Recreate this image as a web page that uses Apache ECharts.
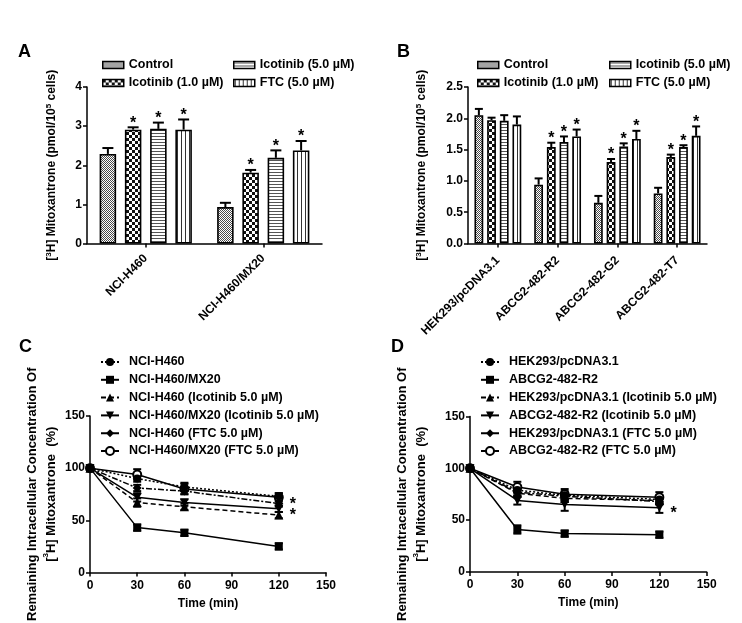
<!DOCTYPE html>
<html><head><meta charset="utf-8">
<script src="https://cdn.jsdelivr.net/npm/echarts@6/dist/echarts.min.js"></script>
<style>html,body{margin:0;padding:0;background:#fff}#c{width:742px;height:623px}</style>
</head><body><div id="c"></div>
<script>
// ---------- data ----------
const treatNames = ['Control', 'Icotinib (1.0 µM)', 'Icotinib (5.0 µM)', 'FTC (5.0 µM)'];

const catsA = ['NCI-H460', 'NCI-H460/MX20'];
const aControl = [2.29, 0.93];
const aIco1 = [2.91, 1.81];
const aIco5 = [2.93, 2.19];
const aFTC = [2.91, 2.38];
const aControlErr = [0.15, 0.11];
const aIco1Err = [0.06, 0.07];
const aIco5Err = [0.16, 0.19];
const aFTCErr = [0.26, 0.24];
const aSig = [[0, 0], [1, 1], [1, 1], [1, 1]];

const catsB = ['HEK293/pcDNA3.1', 'ABCG2-482-R2', 'ABCG2-482-G2', 'ABCG2-482-T7'];
const bControl = [2.05, 0.94, 0.65, 0.80];
const bIco1 = [1.97, 1.54, 1.30, 1.38];
const bIco5 = [1.96, 1.62, 1.55, 1.54];
const bFTC = [1.90, 1.71, 1.67, 1.72];
const bControlErr = [0.10, 0.10, 0.11, 0.09];
const bIco1Err = [0.04, 0.07, 0.05, 0.04];
const bIco5Err = [0.09, 0.09, 0.05, 0.03];
const bFTCErr = [0.13, 0.11, 0.13, 0.15];
const bSig = [[0, 0, 0, 0], [0, 1, 1, 1], [0, 1, 1, 1], [0, 1, 1, 1]];

const timePoints = [0, 30, 60, 120];

const cNames = ['NCI-H460', 'NCI-H460/MX20', 'NCI-H460 (Icotinib 5.0 µM)', 'NCI-H460/MX20 (Icotinib 5.0 µM)', 'NCI-H460 (FTC 5.0 µM)', 'NCI-H460/MX20 (FTC 5.0 µM)'];
const cH460 = [100, 90, 82, 73];
const cMX20 = [100, 43, 38, 25];
const cH460Ico = [100, 67, 63, 55];
const cMX20Ico = [100, 72, 67, 61];
const cH460FTC = [100, 81, 78, 66];
const cMX20FTC = [100, 94, 80, 72];
const cH460Err = [0, 3, 4, 3];
const cMX20Err = [0, 3, 3, 3];
const cH460IcoErr = [0, 4, 3, 3];
const cMX20IcoErr = [0, 4, 3, 3];
const cH460FTCErr = [0, 3, 3, 3];
const cMX20FTCErr = [0, 5, 5, 4];
const cStars = [[129, 70.5], [129, 60]];

const dNames = ['HEK293/pcDNA3.1', 'ABCG2-482-R2', 'HEK293/pcDNA3.1 (Icotinib 5.0 µM)', 'ABCG2-482-R2 (Icotinib 5.0 µM)', 'HEK293/pcDNA3.1 (FTC 5.0 µM)', 'ABCG2-482-R2 (FTC 5.0 µM)'];
const dHEK = [100, 79, 74, 70];
const dR2 = [100, 41, 37, 36];
const dHEKIco = [100, 76, 71, 69];
const dR2Ico = [100, 69, 65, 62];
const dHEKFTC = [100, 77, 73, 68];
const dR2FTC = [100, 82, 75, 72];
const dHEKErr = [0, 3, 4, 4];
const dR2Err = [0, 4, 3, 3];
const dHEKIcoErr = [0, 3, 3, 3];
const dR2IcoErr = [0, 4, 6, 5];
const dHEKFTCErr = [0, 3, 3, 3];
const dR2FTCErr = [0, 5, 5, 5];
const dStars = [[129, 62]];

// ---------- styles ----------
const FF = '"Liberation Sans", Arial, Helvetica, sans-serif';
function makePattern(w, h, draw) {
  const c = document.createElement('canvas');
  c.width = w; c.height = h;
  const g = c.getContext('2d');
  g.fillStyle = '#fff'; g.fillRect(0, 0, w, h);
  draw(g);
  return { image: c, repeat: 'repeat' };
}
const patterns = [
  makePattern(2, 2, g => { g.fillStyle = '#4a4a4a'; g.fillRect(0, 0, 1, 1); g.fillRect(1, 1, 1, 1); }),
  makePattern(6, 6, g => { g.fillStyle = '#111'; g.fillRect(0, 0, 3, 3); g.fillRect(3, 3, 3, 3); }),
  makePattern(4, 3, g => { g.fillStyle = '#555'; g.fillRect(0, 1, 4, 1); }),
  makePattern(4, 4, g => { g.fillStyle = '#333'; g.fillRect(1, 0, 1, 4); })
];
const lineTypes = [[2, 2], 'solid', [5, 3], 'solid', [6, 2, 2, 2], 'solid'];
const symbols = ['circle', 'rect', 'triangle', 'path://M0,0 L10,0 L5,9 Z', 'diamond', 'emptyCircle'];
const symbolSizes = [8, 8, 9, [9, 8], 9, 8];

const axisLine = { show: true, lineStyle: { color: '#000', width: 1.5 } };
const axisTick = { show: true, length: 4, lineStyle: { color: '#000', width: 1.5 } };
const lab = { color: '#000', fontSize: 12, fontWeight: 'bold', fontFamily: FF };

const aMeans = [aControl, aIco1, aIco5, aFTC];
const aErrs = [aControlErr, aIco1Err, aIco5Err, aFTCErr];
const bMeans = [bControl, bIco1, bIco5, bFTC];
const bErrs = [bControlErr, bIco1Err, bIco5Err, bFTCErr];
const cMeans = [cH460, cMX20, cH460Ico, cMX20Ico, cH460FTC, cMX20FTC];
const cErrs = [cH460Err, cMX20Err, cH460IcoErr, cMX20IcoErr, cH460FTCErr, cMX20FTCErr];
const dMeans = [dHEK, dR2, dHEKIco, dR2Ico, dHEKFTC, dR2FTC];
const dErrs = [dHEKErr, dR2Err, dHEKIcoErr, dR2IcoErr, dHEKFTCErr, dR2FTCErr];

const A_BW = 16.5, A_GAP = 0.53, B_BW = 8.8, B_GAP = 0.44;

const series = [];
function addBars(gi, means, errs, sigs, bw, gap, cap) {
  const pitch = bw * (1 + gap);
  means.forEach((m, si) => {
    series.push({
      type: 'bar', name: treatNames[si], xAxisIndex: gi, yAxisIndex: gi,
      data: m, barWidth: bw, barGap: (gap * 100) + '%',
      itemStyle: { color: patterns[si], borderColor: '#000', borderWidth: 1.6 },
      z: 2
    });
  });
  means.forEach((m, si) => {
    series.push({
      type: 'custom', xAxisIndex: gi, yAxisIndex: gi, z: 3, silent: true,
      data: m.map((v, i) => [i, v, v + errs[si][i], sigs[si][i]]),
      renderItem: (params, api) => {
        const c = api.coord([api.value(0), api.value(1)]);
        const t = api.coord([api.value(0), api.value(2)]);
        const x = c[0] + (si - (means.length - 1) / 2) * pitch;
        const ch = [
          { type: 'line', shape: { x1: x, y1: c[1], x2: x, y2: t[1] }, style: { stroke: '#000', lineWidth: 2 } },
          { type: 'line', shape: { x1: x - cap / 2, y1: t[1], x2: x + cap / 2, y2: t[1] }, style: { stroke: '#000', lineWidth: 2 } }
        ];
        if (api.value(3)) {
          ch.push({ type: 'text', style: { text: '*', x: x, y: t[1] + 4, align: 'center', verticalAlign: 'bottom', font: 'bold 16px ' + FF, fill: '#000' } });
        }
        return { type: 'group', children: ch };
      }
    });
  });
}
addBars(0, aMeans, aErrs, aSig, A_BW, A_GAP, 11);
addBars(1, bMeans, bErrs, bSig, B_BW, B_GAP, 8);

function addLines(gi, names, means, errs, stars) {
  means.forEach((m, si) => {
    series.push({
      type: 'line', name: names[si], xAxisIndex: gi, yAxisIndex: gi,
      data: m.map((v, i) => [timePoints[i], v]),
      symbol: symbols[si], symbolSize: symbolSizes[si], showAllSymbol: true,
      lineStyle: { color: '#000', width: 1.5, type: lineTypes[si] },
      itemStyle: { color: '#000', borderColor: '#000', borderWidth: si === 5 ? 1.5 : 0 },
      z: si === 5 ? 2 : 3
    });
    series.push({
      type: 'custom', xAxisIndex: gi, yAxisIndex: gi, z: 1, silent: true,
      data: m.map((v, i) => [timePoints[i], v, errs[si][i]]),
      renderItem: (params, api) => {
        const x = api.value(0), v = api.value(1), e = api.value(2);
        if (!e) return null;
        const t = api.coord([x, v + e]), b = api.coord([x, v - e]);
        const w = 4;
        const st = { stroke: '#000', lineWidth: 2 };
        return { type: 'group', children: [
          { type: 'line', shape: { x1: t[0], y1: t[1], x2: b[0], y2: b[1] }, style: st },
          { type: 'line', shape: { x1: t[0] - w, y1: t[1], x2: t[0] + w, y2: t[1] }, style: st },
          { type: 'line', shape: { x1: b[0] - w, y1: b[1], x2: b[0] + w, y2: b[1] }, style: st }
        ] };
      }
    });
  });
  series.push({
    type: 'custom', xAxisIndex: gi, yAxisIndex: gi, z: 4, silent: true,
    data: stars,
    renderItem: (params, api) => {
      const p = api.coord([api.value(0), api.value(1)]);
      return { type: 'text', style: { text: '*', x: p[0], y: p[1] + 6, align: 'center', verticalAlign: 'middle', font: 'bold 16px ' + FF, fill: '#000' } };
    }
  });
}
addLines(2, cNames, cMeans, cErrs, cStars);
addLines(3, dNames, dMeans, dErrs, dStars);

const supRich = { sup: { fontSize: 8, fontWeight: 'bold', fontFamily: FF, verticalAlign: 'top', color: '#000' } };
function catAxis(gi, cats, margin) {
  return {
    type: 'category', gridIndex: gi, data: cats,
    axisLine, axisTick: Object.assign({ alignWithLabel: true }, axisTick),
    axisLabel: Object.assign({ rotate: 45, interval: 0, margin }, lab),
    splitLine: { show: false }
  };
}
function valAxisY(gi, max, interval, name, gap, fmt, fs, lh) {
  return {
    type: 'value', gridIndex: gi, min: 0, max, interval,
    axisLine, axisTick,
    axisLabel: Object.assign({ margin: 5, formatter: fmt }, lab),
    splitLine: { show: false },
    name, nameLocation: 'middle', nameGap: gap,
    nameTextStyle: { color: '#000', fontSize: fs, fontWeight: 'bold', fontFamily: FF, lineHeight: lh, rich: supRich }
  };
}
function timeAxis(gi) {
  return {
    type: 'value', gridIndex: gi, min: 0, max: 150, interval: 30,
    axisLine, axisTick,
    axisLabel: Object.assign({ margin: 7 }, lab),
    splitLine: { show: false },
    name: 'Time (min)', nameLocation: 'middle', nameGap: 25,
    nameTextStyle: { color: '#000', fontSize: 12, fontWeight: 'bold', fontFamily: FF }
  };
}

const legText = { color: '#000', fontSize: 12.5, fontWeight: 'bold', fontFamily: FF, lineHeight: 14 };
function barLegend(left, names) {
  return {
    left, top: 58, orient: 'vertical', padding: 0, itemGap: 4, itemWidth: 21, itemHeight: 7,
    icon: 'rect', selectedMode: false, data: names, textStyle: legText,
    itemStyle: { borderColor: '#000', borderWidth: 1.5 }
  };
}
function lineLegend(left, names) {
  return {
    left, top: 355, orient: 'vertical', padding: 0, itemGap: 3.8, itemWidth: 18, itemHeight: 10,
    selectedMode: false,
    data: names.map((n, i) => ({ name: n, itemStyle: { color: '#000', borderColor: '#000', borderWidth: i === 5 ? 1.5 : 0 } })),
    textStyle: Object.assign({ padding: [0, 0, 0, 5] }, legText)
  };
}

const yName1 = '[{sup|3}H] Mitoxantrone (pmol/10{sup|5} cells)';
const yName2 = 'Remaining Intracellular Concentration Of\n[{sup|3}H] Mitoxantrone  (%)';

const letter = (x, y, t) => ({ type: 'text', left: x, top: y, style: { text: t, font: 'bold 18px ' + FF, fill: '#000' } });

const option = {
  animation: false,
  backgroundColor: '#fff',
  textStyle: { fontFamily: FF },
  grid: [
    { left: 87, top: 87, width: 235, height: 156.5 },
    { left: 468, top: 87, width: 239, height: 156.5 },
    { left: 90, top: 416, width: 236, height: 157 },
    { left: 470, top: 416.5, width: 236.7, height: 157 }
  ],
  xAxis: [catAxis(0, catsA, 13), catAxis(1, catsB, 15), timeAxis(2), timeAxis(3)],
  yAxis: [
    valAxisY(0, 4, 1, yName1, 28, v => v, 12, 14),
    valAxisY(1, 2.5, 0.5, yName1, 39, v => v.toFixed(1), 12, 14),
    valAxisY(2, 150, 50, yName2, 28, v => v, 13, 19),
    valAxisY(3, 150, 50, yName2, 39, v => v, 13, 19)
  ],
  legend: [
    barLegend(102, [treatNames[0], treatNames[1]]),
    barLegend(233, [treatNames[2], treatNames[3]]),
    barLegend(477, [treatNames[0], treatNames[1]]),
    barLegend(609, [treatNames[2], treatNames[3]]),
    lineLegend(100, cNames),
    lineLegend(480, dNames)
  ],
  graphic: [letter(18, 43, 'A'), letter(397, 43, 'B'), letter(19, 338, 'C'), letter(391, 338, 'D')],
  series
};
const chart = echarts.init(document.getElementById('c'), null, { renderer: 'canvas' });
chart.setOption(option);
</script></body></html>
